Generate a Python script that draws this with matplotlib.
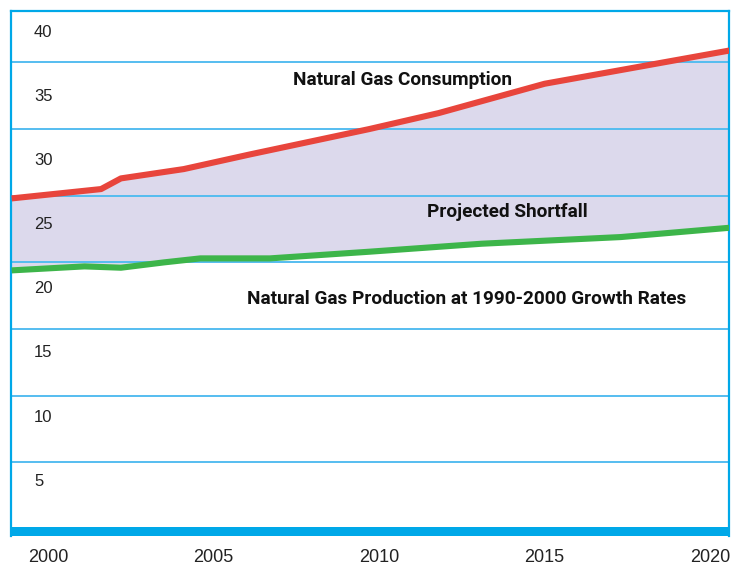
import matplotlib
matplotlib.use("Agg")
import matplotlib.pyplot as plt
import numpy as np

# DATA (quadrillion Btu)
cons_years = [1998.9, 2001.6, 2002.2, 2004.1, 2006.1, 2009.7, 2011.8, 2015.0, 2020.6]
cons_vals = [24.8, 25.5, 26.3, 27.0, 28.1, 30.0, 31.2, 33.4, 35.9]
prod_years = [1998.9, 2001.1, 2002.2, 2003.5, 2004.6, 2006.7, 2009.7, 2013.1, 2017.3, 2020.6]
prod_vals = [19.4, 19.7, 19.6, 20.0, 20.3, 20.3, 20.8, 21.4, 21.9, 22.6]
grid_vals = [5, 10, 15, 20, 25, 30, 35]
y_labels = ["5", "10", "15", "20", "25", "30", "35", "40"]
x_ticks = [2000, 2005, 2010, 2015, 2020]

RED = "#e8453c"
GREEN = "#3db54a"
BLUE = "#00a8e8"
GRID = "#55bdf0"
FILL = "#dcd9ec"

fig = plt.figure(figsize=(7.44, 5.69), dpi=100)
ax = fig.add_axes([10.7 / 744, 33 / 569, 718.3 / 744, 525.3 / 569])
ax.set_xlim(1998.87, 2020.57)
ax.set_ylim(-0.525, 38.88)

# shortfall area between the two curves
ax.fill(np.r_[cons_years, prod_years[::-1]], np.r_[cons_vals, prod_vals[::-1]],
        color=FILL, lw=0, zorder=0.5)

for g in grid_vals:
    ax.axhline(g, color=GRID, lw=1.4, zorder=1)

ax.plot(cons_years, cons_vals, color=RED, lw=4.4, solid_capstyle="butt", zorder=3)
ax.plot(prod_years, prod_vals, color=GREEN, lw=4.4, solid_capstyle="butt", zorder=3)

# thick bar along the bottom
ax.axhspan(-0.525, 0.15, color=BLUE, lw=0, zorder=4)

for s in ax.spines.values():
    s.set_color(BLUE)
    s.set_linewidth(1.6)
ax.spines["bottom"].set_visible(False)

ax.set_yticks([])
ax.set_xticks(x_ticks, [str(x) for x in x_ticks])
ax.tick_params(axis="x", length=0, pad=9, labelsize=13, labelcolor="#222222")
for t in ax.get_xticklabels():
    t.set_family(["Liberation Sans", "DejaVu Sans"])

# the y labels sit inside the frame, a little off the grid lines
for lab in y_labels:
    v = int(lab) * 0.961 - 1.21
    ax.text(23.3 / 718.3, v, lab, transform=ax.get_yaxis_transform(),
            ha="left", va="center", fontsize=12, color="#222222",
            family=["Liberation Sans", "DejaVu Sans"])

bold = dict(fontsize=13.7, fontweight="bold", color="#111111",
            family=["Roboto", "DejaVu Sans"], ha="center", va="center")
ax.text(2010.7, 33.7, "Natural Gas Consumption", **bold)
ax.text(2013.87, 23.8, "Projected Shortfall", **bold)
ax.text(2012.63, 17.25, "Natural Gas Production at 1990-2000 Growth Rates", **bold)

fig.savefig("out.png", dpi=100)
